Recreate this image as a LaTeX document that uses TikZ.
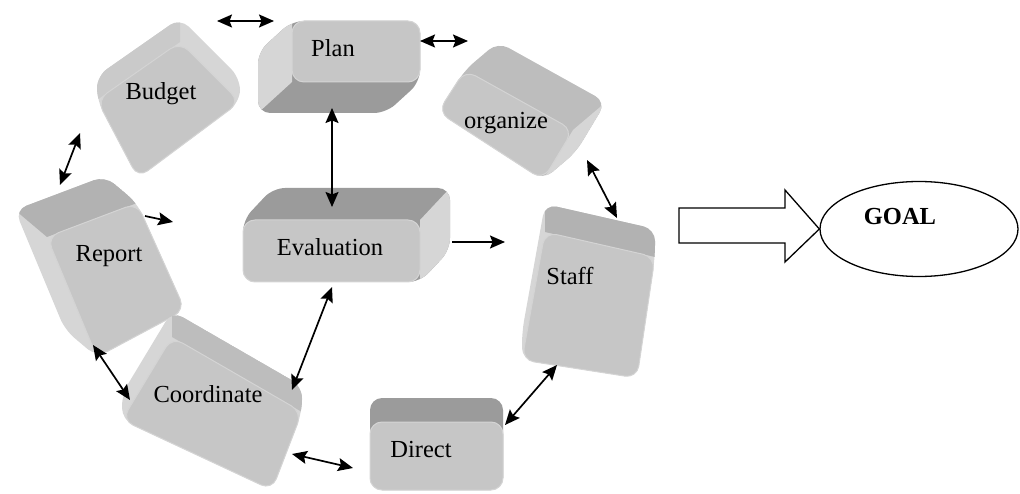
\documentclass[tikz,border=0pt]{standalone}
\usepackage{fontspec}
\setmainfont{Liberation Serif}
\usetikzlibrary{calc,arrows.meta,shapes.geometric}

\definecolor{frontgrey}{HTML}{C6C6C6}
\definecolor{rimgrey}{HTML}{D4D4D4}
\definecolor{darkside}{HTML}{9B9B9B}
\definecolor{midside}{HTML}{B2B2B2}
\definecolor{softside}{HTML}{BDBDBD}
\definecolor{blendside}{HTML}{CACACA}
\definecolor{lightside}{HTML}{D6D6D6}

% A bevelled key: front face P-Q-R-S, pushed back by an offset;
% faces PQ and QR are the two visible sides.
\newcommand\slab[8]{%
  \coordinate (#8-p) at (#1);
  \coordinate (#8-q) at (#2);
  \coordinate (#8-r) at (#3);
  \coordinate (#8-s) at (#4);
  \coordinate (#8-pb) at ($(#8-p)+(#5)$);
  \coordinate (#8-qb) at ($(#8-q)+(#5)$);
  \coordinate (#8-rb) at ($(#8-r)+(#5)$);
  \fill[#6, rounded corners=12pt]
    (#8-pb)--(#8-qb)--(#8-rb)--(#8-r)--(#8-s)--(#8-p)--cycle;
  \begin{scope}
    \clip[rounded corners=12pt]
      (#8-pb)--(#8-qb)--(#8-rb)--(#8-r)--(#8-s)--(#8-p)--cycle;
    \fill[#7] (#8-q)--(#8-r)--(#8-rb)--(#8-qb)--cycle;
  \end{scope}
  \filldraw[fill=frontgrey, draw=rimgrey, line width=1pt, rounded corners=12pt]
    (#8-p)--(#8-q)--(#8-r)--(#8-s)--cycle;
}

\tikzset{
  tip/.tip={Stealth[length=15pt,width=13pt,inset=2.5pt]},
  keylabel/.style={anchor=base, inner sep=0pt, font=\fontsize{24.5pt}{28pt}\selectfont},
  link/.style={line width=1.7pt, tip-tip},
  flow/.style={line width=1.7pt, -tip},
  outline/.style={line width=1.3pt, draw=black}
}

\begin{document}
\begin{tikzpicture}[x=1pt, y=-1pt]
\useasboundingbox (0,0) rectangle (1020,494);

% keys of the cycle
\slab{240,102}{180,42}{97,100}{138,178}{0,-24}{lightside}{blendside}{budget}
\slab{420,82}{292,82}{292,21}{420,21}{-34,31}{darkside}{lightside}{plan}
\slab{465,70}{573,130}{543,180}{438,112}{33,-28}{softside}{lightside}{organize}
\slab{522,360}{545,232}{655,257}{637,378}{0,-28}{lightside}{midside}{staff}
\slab{243,220}{420,220}{420,282}{243,282}{30,-32}{darkside}{lightside}{evaluation}
\slab{97,357}{47,237}{137,203}{185,310}{-32,-27}{lightside}{midside}{report}
\slab{122,420}{172,337}{302,412}{272,490}{0,-26}{lightside}{softside}{coordinate}
\slab{370,422}{503,422}{503,490}{370,490}{0,-24}{darkside}{lightside}{direct}

% labels
\node[keylabel] (tbudget) at (161,100) {Budget};
\node[keylabel] (tplan) at (333,57) {Plan};
\node[keylabel] (torganize) at (506,129) {organize};
\node[keylabel] (tstaff) at (570,285) {Staff};
\node[keylabel] (tevaluation) at (330,256) {Evaluation};
\node[keylabel] (treport) at (109,262) {Report};
\node[keylabel] (tcoordinate) at (208,402) {Coordinate};
\node[keylabel] (tdirect) at (421,457) {Direct};

% connector ends
\coordinate (bp1) at (217,21);  \coordinate (bp2) at (274,21);
\coordinate (po1) at (420,41);  \coordinate (po2) at (468,41);
\coordinate (pe1) at (332,108); \coordinate (pe2) at (332,207);
\coordinate (os1) at (587,160); \coordinate (os2) at (617,218);
\coordinate (eo1) at (452,242); \coordinate (eo2) at (505,242);
\coordinate (ro1) at (145,216); \coordinate (ro2) at (173,222);
\coordinate (br1) at (80,133);  \coordinate (br2) at (60,185);
\coordinate (rc1) at (93,345);  \coordinate (rc2) at (130,400);
\coordinate (ec1) at (332,287); \coordinate (ec2) at (292,390);
\coordinate (cd1) at (292,454); \coordinate (cd2) at (353,468);
\coordinate (sd1) at (557,365); \coordinate (sd2) at (505,425);

\draw[link] (bp1) -- (bp2);
\draw[link] (po1) -- (po2);
\draw[link] (pe1) -- (pe2);
\draw[link] (os1) -- (os2);
\draw[flow] (eo1) -- (eo2);
\draw[flow] (ro1) -- (ro2);
\draw[link] (br1) -- (br2);
\draw[link] (rc1) -- (rc2);
\draw[link] (ec1) -- (ec2);
\draw[link] (cd1) -- (cd2);
\draw[link] (sd1) -- (sd2);

% goal
\node[outline, ellipse, minimum width=198pt, minimum height=95pt, inner sep=0pt] (goal) at (919,229) {};
\node[keylabel, font=\fontsize{24.5pt}{28pt}\selectfont\bfseries] (tgoal) at (900,225) {GOAL};
\draw[outline, fill=white, line join=miter]
  (679,208) -- (785,208) -- (785,190) -- (goal.west) -- (785,262) -- (785,243) -- (679,243) -- cycle;
\end{tikzpicture}
\end{document}
